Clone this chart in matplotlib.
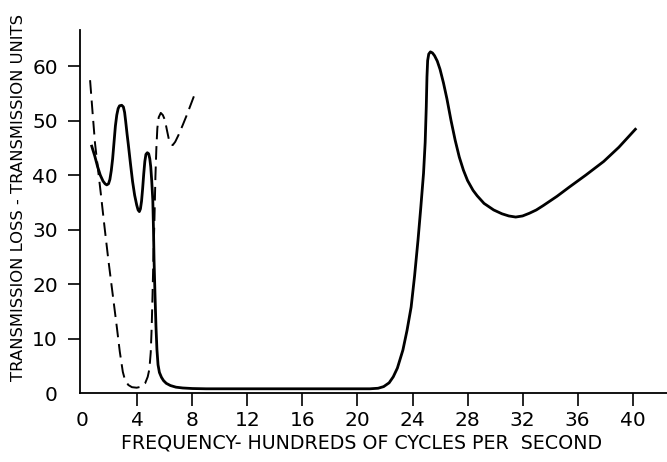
import matplotlib
matplotlib.use("Agg")
import matplotlib.pyplot as plt

plt.rcParams["font.family"] = ["DejaVu Sans"]

# solid curve
solid_x = [0.68, 0.9, 1.1, 1.3, 1.5, 1.65, 1.77, 1.9, 2.0, 2.1, 2.2, 2.3, 2.4, 2.5,
           2.6, 2.7, 2.86, 2.98, 3.07, 3.15, 3.25, 3.34, 3.5, 3.65, 3.8, 3.95, 4.05,
           4.14, 4.22, 4.3, 4.38, 4.46, 4.54, 4.62, 4.72, 4.82, 4.9, 4.97, 5.04,
           5.12, 5.17, 5.21, 5.28, 5.35, 5.42, 5.5, 5.6, 5.75, 5.9, 6.1, 6.4, 6.8,
           7.3, 8.0, 9.0, 14.0, 20.9, 21.5, 21.9, 22.3, 22.6, 22.9, 23.3, 23.6,
           23.9, 24.15, 24.4, 24.6, 24.8, 24.92, 25.0, 25.05, 25.1, 25.18, 25.3,
           25.45, 25.6, 25.8, 26.0, 26.25, 26.5, 26.8, 27.1, 27.4, 27.7, 28.0,
           28.4, 28.7, 29.2, 29.9, 30.5, 31.0, 31.5, 32.0, 32.5, 33.0, 33.5, 34.5,
           35.4, 36.6, 37.9, 39.0, 40.2]
solid_y = [45.3, 43.5, 41.6, 40.0, 38.9, 38.4, 38.2, 38.4, 39.2, 40.8, 43.0, 46.0,
           49.0, 51.0, 52.2, 52.7, 52.8, 52.5, 51.5, 49.8, 47.5, 45.6, 42.0, 38.8,
           36.3, 34.5, 33.6, 33.3, 33.8, 35.2, 37.5, 40.2, 42.5, 43.8, 44.1, 43.9,
           43.0, 41.5, 39.0, 35.4, 30.0, 24.4, 18.0, 12.2, 8.0, 5.2, 3.8, 2.9, 2.3,
           1.8, 1.4, 1.1, 0.95, 0.85, 0.8, 0.8, 0.8, 0.9, 1.2, 1.9, 3.0, 4.6, 7.9,
           11.5, 15.8, 21.5, 28.1, 34.0, 40.3, 46.0, 52.5, 58.0, 61.0, 62.2, 62.6,
           62.4, 61.9, 60.9, 59.4, 56.9, 54.0, 50.0, 46.4, 43.3, 40.9, 39.0, 37.2,
           36.2, 34.8, 33.6, 32.9, 32.5, 32.3, 32.5, 33.0, 33.6, 34.4, 36.1, 37.8,
           40.0, 42.5, 45.1, 48.4]

# dashed curve
dash_x = [0.56, 0.74, 0.92, 1.13, 1.34, 1.6, 1.89, 2.2, 2.5, 2.72, 2.94, 3.1, 3.34,
          3.6, 3.95, 4.3, 4.56, 4.75, 4.87, 4.97, 5.04, 5.1, 5.16, 5.24, 5.31, 5.38,
          5.45, 5.55, 5.7, 5.85, 6.0, 6.15, 6.3, 6.45, 6.57, 6.75, 6.98, 7.3, 7.59,
          8.19]
dash_y = [57.4, 51.5, 45.8, 41.2, 36.6, 30.7, 24.4, 18.2, 12.2, 7.6, 3.9, 2.4, 1.5,
          1.1, 1.0, 1.2, 1.8, 3.0, 4.4, 7.5, 12.2, 18.0, 24.4, 32.0, 39.7, 45.0,
          48.6, 50.6, 51.4, 51.0, 50.1, 48.2, 46.4, 45.6, 45.5, 46.1, 47.3, 49.2,
          51.0, 55.0]

x_ticks = [0, 4, 8, 12, 16, 20, 24, 28, 32, 36, 40]
y_ticks = [0, 10, 20, 30, 40, 50, 60]

fig = plt.figure(figsize=(6.67, 4.62), dpi=100)
ax = fig.add_axes([0.12, 0.149, 0.88, 0.786])

ax.plot(solid_x, solid_y, color="black", lw=2.0, solid_joinstyle="round")
ax.plot(dash_x, dash_y, color="black", lw=1.4, dashes=(7, 3.5))

ax.set_xlim(-0.17, 42.5)
ax.set_ylim(0, 66.6)
ax.spines["top"].set_visible(False)
ax.spines["right"].set_visible(False)
ax.spines["left"].set_linewidth(1.3)
ax.spines["bottom"].set_linewidth(1.3)

ax.set_xticks(x_ticks)
ax.set_yticks(y_ticks)
ax.tick_params(axis="both", direction="out", length=9, width=1.2,
               labelsize=14.5, pad=7)
ax.tick_params(axis="x", pad=4)
ax.xaxis.get_major_ticks()[0].tick1line.set_visible(False)
ax.yaxis.get_major_ticks()[0].tick1line.set_visible(False)

ax.set_xlabel("FREQUENCY- HUNDREDS OF CYCLES PER  SECOND", fontsize=13.7)
ax.xaxis.set_label_coords(0.48, -0.11)
ax.set_ylabel("TRANSMISSION LOSS - TRANSMISSION UNITS", fontsize=11.8)
ax.yaxis.set_label_coords(-0.092, 0.54)

fig.savefig("out.png", dpi=100)
